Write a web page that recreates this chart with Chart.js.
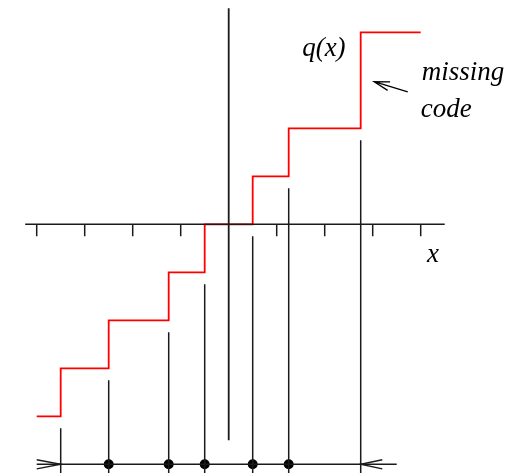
<!DOCTYPE html>
<html lang="en">
<head>
    <meta charset="UTF-8">
    <title>Quantizer q(x) with missing code</title>
    <script src="https://cdn.jsdelivr.net/npm/chart.js"></script>
    <style>
        body { margin: 0; background: white; }
        #wrap { width: 521px; height: 473px; position: relative; }
    </style>
</head>
<body>
    <div id="wrap"><canvas id="myChart"></canvas></div>
    <script>
        // quantizer output levels (code 3 is missing)
        const codes = [-4, -3, -2, -1, 0, 1, 2, 4];
        // decision thresholds between consecutive codes
        const thresholds = [-3.5, -2.5, -1.25, -0.5, 0.5, 1.25, 2.75];
        const inputRange = [-4, 4];
        // tick marks on the x axis
        const tickValues = [-4, -3, -2, -1, 1, 2, 3, 4];
        const xAxisRange = [-4.24, 4.5];
        const yAxisRange = [-4.5, 4.5];
        // bottom line holding the thresholds
        const bottomLevel = -5;
        const bottomRange = [-4, 3.5];

        const ink = '#1a1a1a';

        // staircase points, stepped horizontally then vertically
        const stairs = [{ x: inputRange[0], y: codes[0] }];
        thresholds.forEach((t, i) => stairs.push({ x: t, y: codes[i + 1] }));
        stairs.push({ x: inputRange[1], y: codes[codes.length - 1] });

        const ticks = [];
        tickValues.forEach(t => {
            ticks.push({ x: t, y: 0 }, { x: t, y: -0.25 }, { x: t, y: null });
        });

        const drops = [];
        thresholds.forEach((t, i) => {
            drops.push({ x: t, y: codes[i] - 0.25 }, { x: t, y: bottomLevel - 0.4 }, { x: t, y: null });
        });

        const dots = thresholds.slice(1, -1).map(t => ({ x: t, y: bottomLevel }));

        const arrowLen = 0.5, arrowHalf = 0.095;
        const tL = thresholds[0], tR = thresholds[thresholds.length - 1];
        const heads = [
            { x: tL - arrowLen, y: bottomLevel + arrowHalf }, { x: tL, y: bottomLevel }, { x: tL - arrowLen, y: bottomLevel - arrowHalf }, { x: tL, y: null },
            { x: tR + 0.45, y: bottomLevel + arrowHalf }, { x: tR, y: bottomLevel }, { x: tR + 0.45, y: bottomLevel - arrowHalf }
        ];

        const lineSet = (data, color, width) => ({
            data: data, showLine: true, borderColor: color, borderWidth: width,
            pointRadius: 0, spanGaps: false, fill: false
        });

        // text annotations, in data units
        const notes = [
            { text: 'q(x)', x: 1.53, y: 3.5 },
            { text: 'missing', x: 4.02, y: 3.0 },
            { text: 'code', x: 4.0, y: 2.23 },
            { text: 'x', x: 4.13, y: -0.79 }
        ];
        const pointer = { from: { x: 3.73, y: 2.76 }, to: { x: 3.03, y: 2.97 } };

        const notesPlugin = {
            id: 'notes',
            afterDatasetsDraw(chart) {
                const c = chart.ctx, sx = chart.scales.x, sy = chart.scales.y;
                c.save();
                c.fillStyle = '#000';
                c.font = 'italic 27px "Liberation Serif", "DejaVu Serif", serif';
                c.textBaseline = 'alphabetic';
                notes.forEach(n => c.fillText(n.text, sx.getPixelForValue(n.x), sy.getPixelForValue(n.y)));
                const x0 = sx.getPixelForValue(pointer.from.x), y0 = sy.getPixelForValue(pointer.from.y);
                const x1 = sx.getPixelForValue(pointer.to.x), y1 = sy.getPixelForValue(pointer.to.y);
                const a = Math.atan2(y0 - y1, x0 - x1);
                c.strokeStyle = '#000';
                c.lineWidth = 1.3;
                c.beginPath();
                c.moveTo(x0, y0); c.lineTo(x1, y1);
                c.moveTo(x1 + 16 * Math.cos(a - 0.28), y1 + 16 * Math.sin(a - 0.28));
                c.lineTo(x1, y1);
                c.lineTo(x1 + 16 * Math.cos(a + 0.28), y1 + 16 * Math.sin(a + 0.28));
                c.stroke();
                c.restore();
            }
        };

        new Chart(document.getElementById('myChart'), {
            type: 'scatter',
            data: {
                datasets: [
                    lineSet([{ x: xAxisRange[0], y: 0 }, { x: xAxisRange[1], y: 0 }], ink, 1.6),
                    lineSet([{ x: 0, y: yAxisRange[0] }, { x: 0, y: yAxisRange[1] }], ink, 1.8),
                    lineSet(ticks, ink, 1.5),
                    lineSet(drops, ink, 1.5),
                    lineSet([{ x: bottomRange[0], y: bottomLevel }, { x: bottomRange[1], y: bottomLevel }], ink, 1.6),
                    lineSet(heads, ink, 1.4),
                    Object.assign(lineSet(stairs, '#ff0000', 1.8), { stepped: 'before' }),
                    { data: dots, showLine: false, pointRadius: 5, pointBackgroundColor: '#000', pointBorderColor: '#000', pointBorderWidth: 0 }
                ]
            },
            options: {
                responsive: true,
                maintainAspectRatio: false,
                animation: false,
                layout: { padding: 0, autoPadding: false },
                plugins: { legend: { display: false }, tooltip: { enabled: false } },
                scales: {
                    x: { type: 'linear', display: false, min: -228.7 / 48, max: (521 - 228.7) / 48 },
                    y: { type: 'linear', display: false, min: -(473 - 224.3) / 48, max: 224.3 / 48 }
                }
            },
            plugins: [notesPlugin]
        });
    </script>
</body>
</html>
